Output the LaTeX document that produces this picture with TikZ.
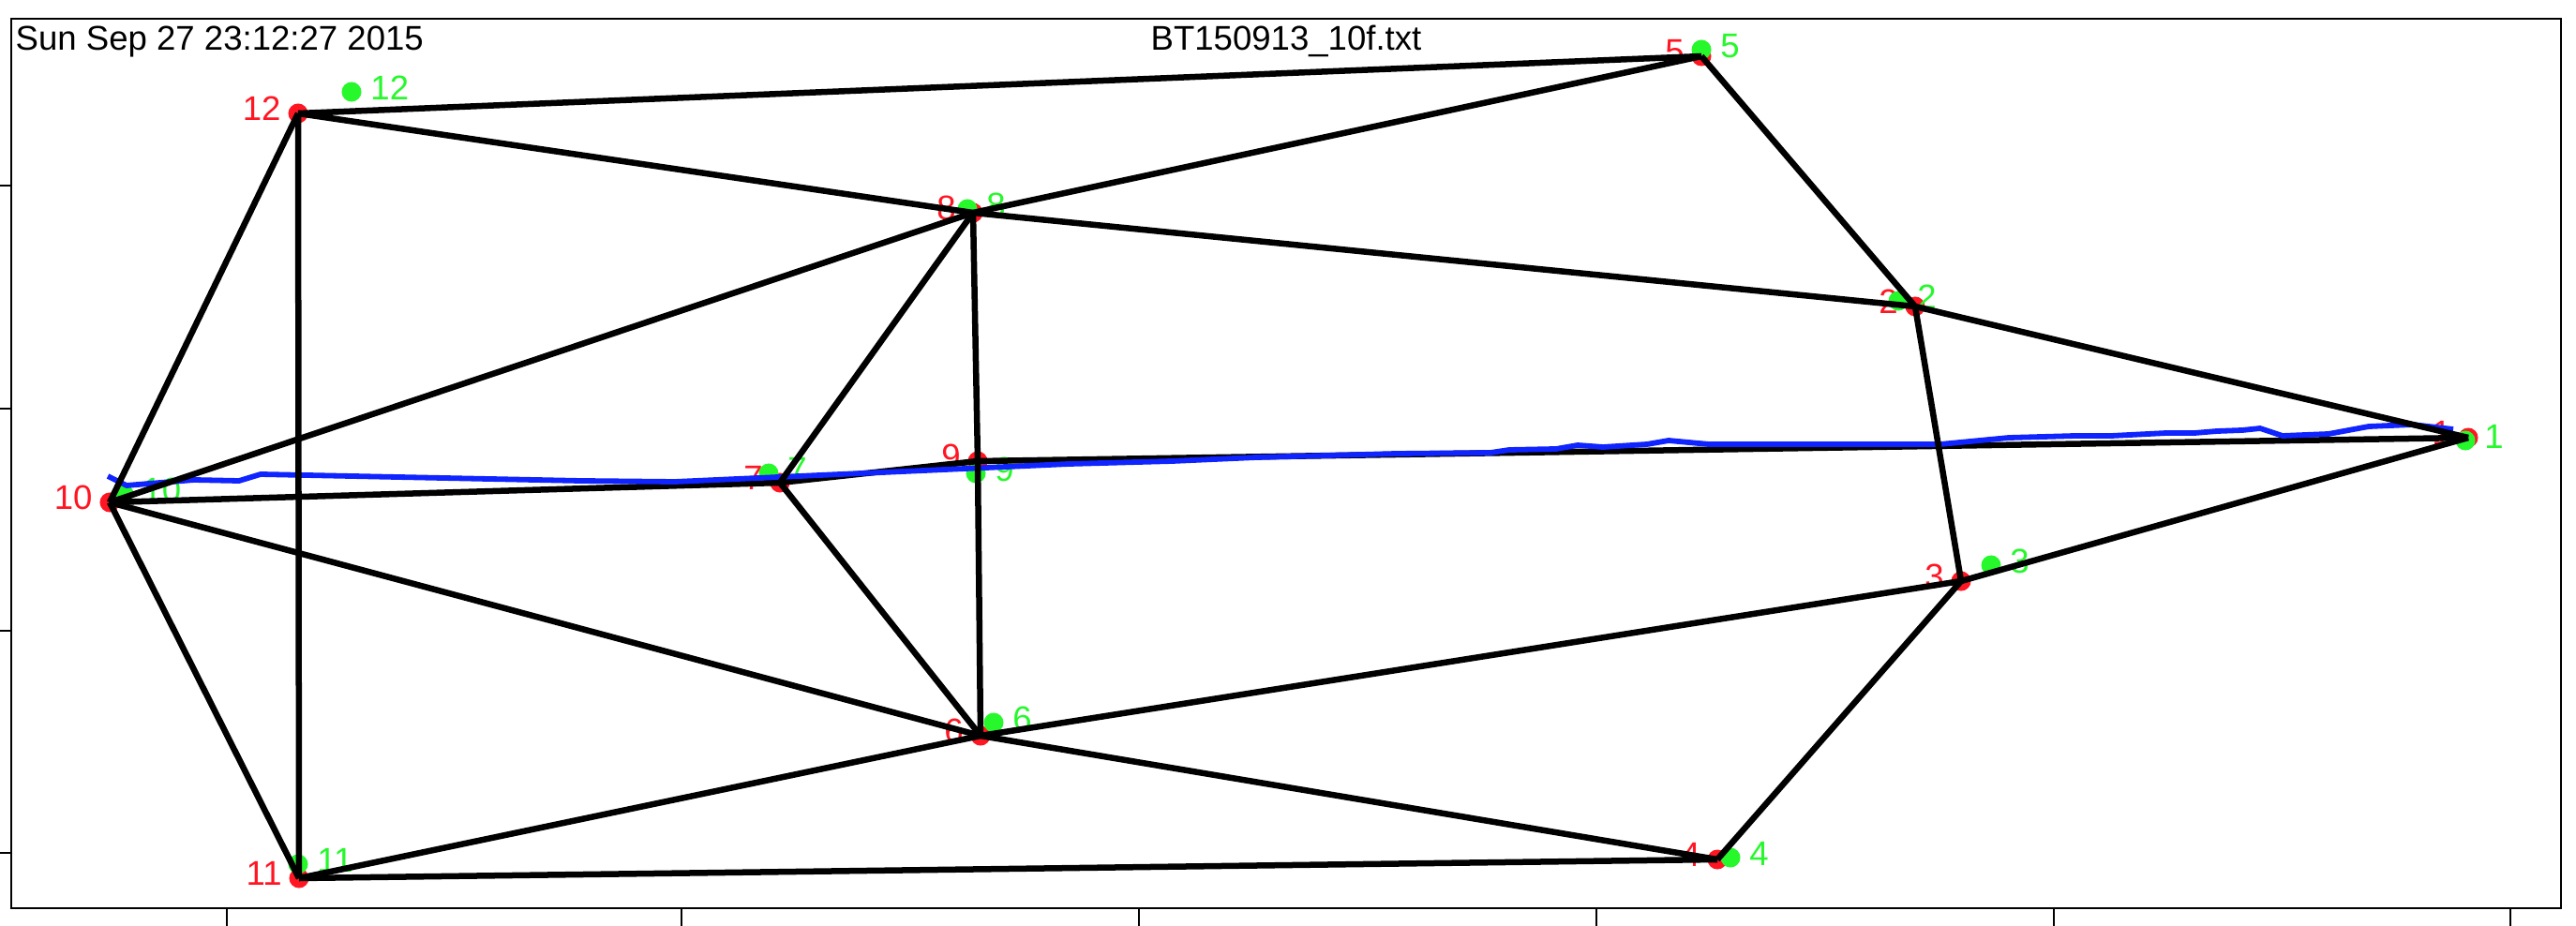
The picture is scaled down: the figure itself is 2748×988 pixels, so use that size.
\documentclass[tikz,border=0pt]{standalone}
\usepackage{fontspec}
\setmainfont{Liberation Sans}
\usetikzlibrary{positioning}
\definecolor{ptred}{RGB}{255,22,34}
\definecolor{ptgreen}{RGB}{38,248,44}
\definecolor{trackblue}{RGB}{16,36,255}

\begin{document}
\begin{tikzpicture}[
    x=0.01cm, y=-0.01cm,
    every node/.style={font=\fontsize{10.4}{12}\selectfont},
    dot/.style  ={circle, inner sep=0pt, minimum size=2.1mm},
    rdot/.style ={dot, fill=ptred},
    gdot/.style ={dot, fill=ptgreen},
    rlbl/.style ={text=ptred, inner sep=0pt, xshift=-0.65mm, yshift=0.5mm},
    glbl/.style ={text=ptgreen, inner sep=0pt, xshift=0.85mm, yshift=0.4mm},
    edge/.style ={line width=0.065cm, black},
    track/.style={line width=0.058cm, trackblue, line join=round},
    frame/.style={line width=0.022cm},
]
\useasboundingbox (0,0) rectangle (2748,988);
% plot frame and ticks
\draw[frame] (12,20) rectangle (2732,969);
\foreach \tx in {242,727,1215,1703,2191,2678}
  \draw[frame] (\tx,969) -- (\tx,988);
\foreach \ty in {198,436,673,910}
  \draw[frame] (0,\ty) -- (12,\ty);
\node[anchor=base west, inner sep=0pt] (stamp) at (16,54) {Sun Sep 27 23:12:27 2015};
\node[anchor=base, inner sep=0pt] (title) at (1372,54) {BT150913\_10f.txt};
% red points
\node[rdot, label={[rlbl]left:1}]  (r1)  at (2633,467) {};
\node[rdot, label={[rlbl]left:2}]  (r2)  at (2043,327) {};
\node[rdot, label={[rlbl]left:3}]  (r3)  at (2092,620) {};
\node[rdot, label={[rlbl]left:4}]  (r4)  at (1832,917) {};
\node[rdot, label={[rlbl]left:5}]  (r5)  at (1815,60)  {};
\node[rdot, label={[rlbl]left:6}]  (r6)  at (1046,785) {};
\node[rdot, label={[rlbl]left:7}]  (r7)  at (832,515)  {};
\node[rdot, label={[rlbl]left:8}]  (r8)  at (1038,227) {};
\node[rdot, label={[rlbl]left:9}]  (r9)  at (1043,492) {};
\node[rdot, label={[rlbl]left:10}] (r10) at (117,536)  {};
\node[rdot, label={[rlbl]left:11}] (r11) at (319,937)  {};
\node[rdot, label={[rlbl]left:12}] (r12) at (318,121)  {};
% green points
\node[gdot, label={[glbl]right:1}]  (g1)  at (2630,470) {};
\node[gdot, label={[glbl]right:2}]  (g2)  at (2025,321) {};
\node[gdot, label={[glbl]right:3}]  (g3)  at (2124,603) {};
\node[gdot, label={[glbl]right:4}]  (g4)  at (1846,915) {};
\node[gdot, label={[glbl]right:5}]  (g5)  at (1815,53)  {};
\node[gdot, label={[glbl]right:6}]  (g6)  at (1060,771) {};
\node[gdot, label={[glbl]right:7}]  (g7)  at (820,505)  {};
\node[gdot, label={[glbl]right:8}]  (g8)  at (1032,223) {};
\node[gdot, label={[glbl]right:9}]  (g9)  at (1041,505) {};
\node[gdot, label={[glbl]right:10}] (g10) at (132,527)  {};
\node[gdot, label={[glbl]right:11}] (g11) at (318,922)  {};
\node[gdot, label={[glbl]right:12}] (g12) at (375,98)   {};
% middle chain
\draw[edge] (r10.center) -- (r7.center) -- (r9.center) -- (r1.center);
% track
\draw[track] (115,508) -- (135,518) -- (207,512) -- (255,513) -- (278,506)
  -- (620,513) -- (720,514) -- (1140,495) -- (1250,492) -- (1340,488)
  -- (1490,484) -- (1590,483) -- (1610,480) -- (1660,479) -- (1683,475)
  -- (1710,477) -- (1757,474) -- (1780,470) -- (1823,474) -- (2070,474)
  -- (2143,467) -- (2214,465) -- (2252,465) -- (2311,462) -- (2341,462)
  -- (2365,460) -- (2392,459) -- (2411,457) -- (2435,465) -- (2484,463)
  -- (2527,455) -- (2573,453) -- (2617,458);
% mesh
\draw[edge] (r12.center) -- (r5.center);
\draw[edge] (r12.center) -- (r8.center);
\draw[edge] (r12.center) -- (r10.center);
\draw[edge] (r12.center) -- (r11.center);
\draw[edge] (r8.center) -- (r5.center);
\draw[edge] (r8.center) -- (r2.center);
\draw[edge] (r8.center) -- (r10.center);
\draw[edge] (r8.center) -- (r7.center);
\draw[edge] (r8.center) -- (r9.center);
\draw[edge] (r5.center) -- (r2.center);
\draw[edge] (r2.center) -- (r1.center);
\draw[edge] (r2.center) -- (r3.center);
\draw[edge] (r3.center) -- (r1.center);
\draw[edge] (r3.center) -- (r4.center);
\draw[edge] (r3.center) -- (r6.center);
\draw[edge] (r6.center) -- (r4.center);
\draw[edge] (r6.center) -- (r7.center);
\draw[edge] (r6.center) -- (r9.center);
\draw[edge] (r6.center) -- (r10.center);
\draw[edge] (r6.center) -- (r11.center);
\draw[edge] (r11.center) -- (r4.center);
\draw[edge] (r11.center) -- (r10.center);
\end{tikzpicture}
\end{document}
